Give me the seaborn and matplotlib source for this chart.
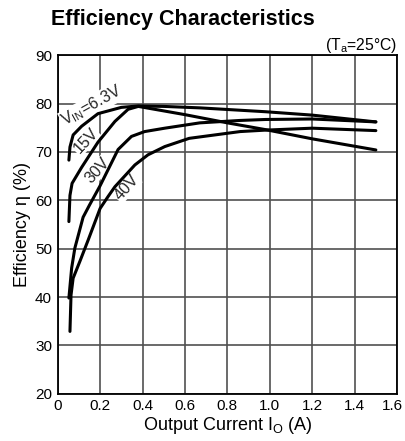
import matplotlib
matplotlib.use("Agg")
import matplotlib.pyplot as plt
import matplotlib.transforms as mtransforms
import seaborn as sns
import pandas as pd

# ---- data ----
i_63 = [0.053, 0.058, 0.073, 0.113, 0.19, 0.30, 0.38, 0.50, 0.67, 0.98, 1.20, 1.50]
e_63 = [68.3, 71.0, 73.5, 75.3, 77.9, 79.2, 79.5, 79.4, 79.1, 78.3, 77.6, 76.2]

i_15 = [0.053, 0.058, 0.068, 0.113, 0.19, 0.27, 0.332, 0.38, 0.60, 0.80, 0.98, 1.20, 1.50]
e_15 = [55.6, 61.0, 63.5, 66.8, 72.0, 76.3, 78.8, 79.4, 77.7, 76.0, 74.6, 72.7, 70.4]

i_30 = [0.053, 0.066, 0.081, 0.12, 0.15, 0.20, 0.285, 0.348, 0.41, 0.505, 0.67, 0.86, 0.98, 1.20, 1.50]
e_30 = [39.8, 46.0, 50.1, 56.5, 59.0, 63.0, 70.5, 73.2, 74.2, 74.9, 76.0, 76.5, 76.7, 76.8, 76.2]

i_40 = [0.058, 0.063, 0.073, 0.105, 0.144, 0.20, 0.238, 0.27, 0.364, 0.426, 0.505, 0.62, 0.86, 0.98, 1.20, 1.50]
e_40 = [32.9, 40.4, 43.9, 47.4, 51.8, 58.3, 60.8, 62.8, 67.3, 69.4, 71.1, 72.8, 74.2, 74.5, 74.9, 74.4]

series_names = ["6.3V", "15V", "30V", "40V"]
x_ticks = [0, 0.2, 0.4, 0.6, 0.8, 1.0, 1.2, 1.4, 1.6]
x_tick_labels = ["0", "0.2", "0.4", "0.6", "0.8", "1.0", "1.2", "1.4", "1.6"]
y_ticks = [20, 30, 40, 50, 60, 70, 80, 90]

frames = []
for name, xs, ys in zip(series_names, [i_63, i_15, i_30, i_40], [e_63, e_15, e_30, e_40]):
    frames.append(pd.DataFrame({"I": xs, "eff": ys, "vin": name}))
df = pd.concat(frames, ignore_index=True)

sns.set_theme(style="white")
plt.rcParams["font.family"] = ["Liberation Sans", "DejaVu Sans"]
plt.rcParams["mathtext.default"] = "regular"

fig = plt.figure(figsize=(4.06, 4.41), dpi=100)
ax = fig.add_axes([0.142, 0.107, 0.836, 0.768])

sns.lineplot(data=df, x="I", y="eff", hue="vin", units="vin", estimator=None, sort=False,
             palette=["black"] * 4, linewidth=2.2, legend=False, ax=ax, zorder=4)

ax.set_xlim(0, 1.6)
ax.set_ylim(20, 90)
ax.set_xticks(x_ticks)
ax.set_xticklabels(x_tick_labels)
ax.set_yticks(y_ticks)
ax.grid(True, color="#505050", linewidth=1.2)
ax.set_axisbelow(True)
for s in ax.spines.values():
    s.set_color("black")
    s.set_linewidth(1.3)
    s.set_visible(True)
ax.tick_params(axis="both", length=0, labelsize=11, colors="black")
ax.tick_params(axis="x", pad=4)
ax.tick_params(axis="y", pad=4)

# nudge the last x tick label inward so it stays inside the figure
last = ax.get_xticklabels()[-1]
last.set_transform(last.get_transform() + mtransforms.ScaledTranslation(-5 / 100, 0, fig.dpi_scale_trans))

ax.set_xlabel("Output Current I$_{O}$ (A)", fontsize=13, color="black", labelpad=1)
ax.set_ylabel("Efficiency η (%)", fontsize=13, color="black", labelpad=3)

fig.text(0.125, 0.943, "Efficiency Characteristics", fontsize=15.5, fontweight="bold",
         ha="left", va="baseline", color="black")
ax.text(1.0, 1.015, "(T$_{a}$=25°C)", transform=ax.transAxes, ha="right", va="baseline",
        fontsize=11.3, color="black")

bbox = dict(facecolor="white", edgecolor="none", pad=0.5)
ax.text(0.16, 79.5, "V$_{IN}$=6.3V", rotation=29, ha="center", va="center", fontsize=11.5,
        bbox=bbox, zorder=3, rotation_mode="anchor")
ax.text(0.132, 72.3, "15V", rotation=47, ha="center", va="center", fontsize=11.5,
        bbox=bbox, zorder=3, rotation_mode="anchor")
ax.text(0.187, 66.1, "30V", rotation=48, ha="center", va="center", fontsize=11.5,
        bbox=bbox, zorder=3, rotation_mode="anchor")
ax.text(0.325, 62.6, "40V", rotation=48, ha="center", va="center", fontsize=11.5,
        bbox=bbox, zorder=3, rotation_mode="anchor")

fig.savefig("out.png", dpi=100)
